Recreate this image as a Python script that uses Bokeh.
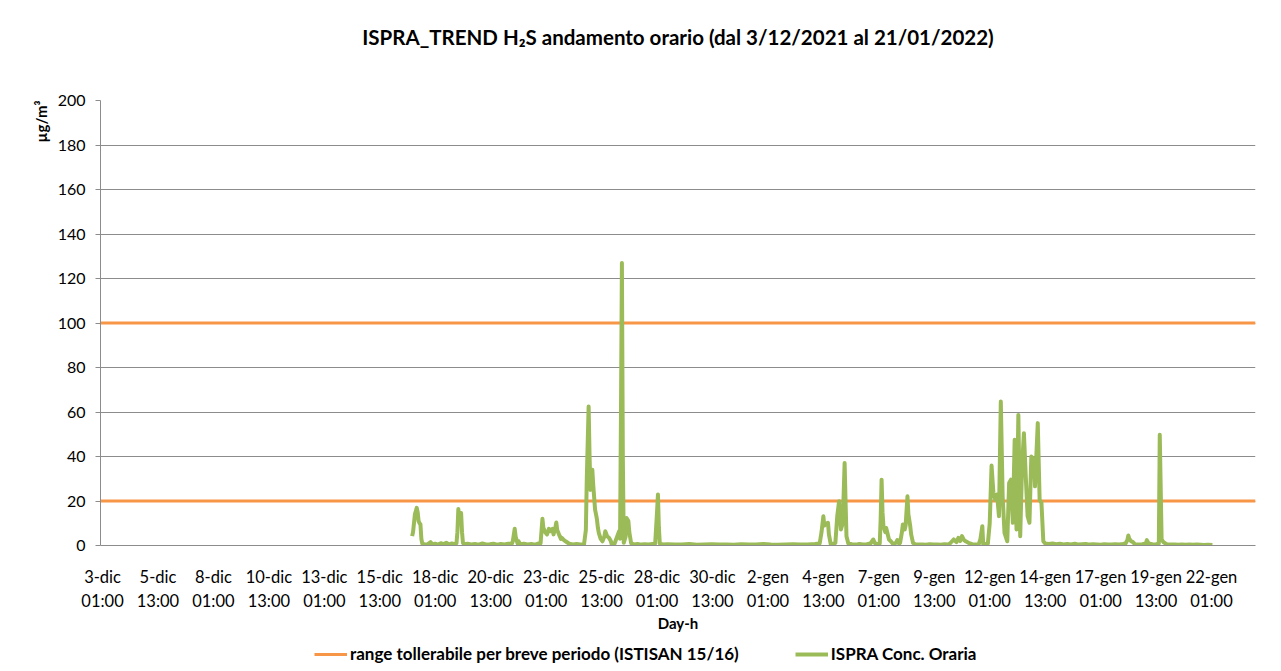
from bokeh.plotting import figure
from bokeh.models import Range1d, FixedTicker, Legend, LegendItem, Title
from bokeh.layouts import column
from bokeh.embed import file_html
from bokeh.resources import INLINE

# ---------------- data ----------------
# hours counted from 3-dic-2021 00:00
tick_hours = [1 + 60 * k for k in range(21)]
tick_labels = ["3-dic\n01:00", "5-dic\n13:00", "8-dic\n01:00", "10-dic\n13:00", "13-dic\n01:00",
               "15-dic\n13:00", "18-dic\n01:00", "20-dic\n13:00", "23-dic\n01:00", "25-dic\n13:00",
               "28-dic\n01:00", "30-dic\n13:00", "2-gen\n01:00", "4-gen\n13:00", "7-gen\n01:00",
               "9-gen\n13:00", "12-gen\n01:00", "14-gen\n13:00", "17-gen\n01:00", "19-gen\n13:00",
               "22-gen\n01:00"]

conc_hours = [336, 337, 338, 339, 341, 342, 343, 344, 345, 346, 347, 350, 353, 356, 358, 361, 364, 367,
              370, 373, 376, 379, 382, 384, 385, 386, 387, 388, 389, 390, 391, 392, 396, 400, 404, 408,
              412, 416, 420, 424, 428, 432, 436, 440, 444, 445, 447, 448, 450, 451, 453, 457, 461, 465,
              469, 473, 475, 477, 478, 480, 482, 484, 486, 488, 489, 491, 492, 493, 495, 497, 498, 500,
              502, 506, 510, 514, 518, 522, 524, 525, 527, 528, 529, 531, 532, 534, 535, 536, 537, 538,
              540, 542, 544, 545, 547, 549, 551, 552, 555, 558, 560, 561, 562, 563, 564, 565, 567, 568,
              570, 571, 573, 576, 580, 584, 588, 592, 596, 599, 601, 602, 603, 604, 608, 612, 620, 628,
              636, 644, 652, 660, 668, 676, 684, 692, 700, 708, 716, 724, 732, 740, 748, 756, 764, 772,
              777, 779, 781, 782, 783, 786, 787, 789, 792, 794, 796, 798, 799, 800, 802, 804, 805, 806,
              808, 812, 816, 820, 824, 828, 832, 835, 837, 840, 842, 843, 844, 845, 846, 848, 849, 852,
              854, 857, 860, 861, 863, 864, 866, 867, 869, 870, 872, 873, 875, 876, 878, 880, 884, 888,
              892, 896, 900, 904, 908, 912, 916, 918, 922, 925, 927, 929, 931, 933, 935, 938, 942, 946,
              949, 951, 953, 954, 956, 959, 961, 963, 965, 967, 969, 971, 973, 975, 977, 980, 982, 984,
              986, 988, 990, 992, 994, 996, 998, 1000, 1002, 1004, 1006, 1009, 1010, 1013, 1015, 1017,
              1019, 1021, 1025, 1029, 1033, 1037, 1041, 1045, 1049, 1053, 1057, 1061, 1065, 1069, 1073,
              1077, 1081, 1085, 1089, 1093, 1097, 1101, 1105, 1108, 1110, 1111, 1112, 1114, 1116, 1118,
              1122, 1126, 1130, 1131, 1133, 1137, 1141, 1144, 1145, 1147, 1149, 1153, 1157, 1161, 1165,
              1169, 1173, 1177, 1181, 1185, 1189, 1193, 1197, 1202]

conc_values = [4.2, 6, 10, 14, 16.9, 15, 11, 10, 9.5, 3, 0.8, 0.5, 0.6, 1.5, 0.5, 0.8, 0.4, 1.0,
               0.6, 1.2, 0.5, 0.9, 0.6, 1.0, 6, 16.4, 12, 10, 14.6, 6, 1.2, 0.6, 0.8, 0.5, 0.7, 0.4,
               0.9, 0.5, 0.6, 0.8, 0.4, 0.7, 0.5, 0.8, 0.9, 2, 7.5, 4, 1, 2, 0.6, 0.8, 0.5, 0.7,
               0.4, 0.9, 1, 12, 8, 6, 5, 7.5, 6.4, 7.5, 5, 8, 10.3, 7, 4.9, 3, 3.4, 2.5,
               1.9, 0.8, 0.5, 0.7, 0.5, 0.5, 7, 30, 62.5, 40, 25, 34, 27, 16, 14, 11.7, 8, 5.7,
               3, 1.9, 4, 6.4, 4.2, 3.5, 2, 0.5, 0.8, 4.2, 6.4, 3, 60, 127, 40, 1.2, 4, 12.4,
               11, 6, 1, 0.5, 0.7, 0.4, 0.6, 0.5, 0.7, 0.8, 15, 22.9, 8, 0.8, 0.5, 0.6, 0.4, 0.5,
               0.7, 0.3, 0.5, 0.6, 0.4, 0.5, 0.3, 0.6, 0.4, 0.5, 0.7, 0.4, 0.3, 0.5, 0.6, 0.4, 0.5, 0.7,
               0.9, 6, 13.1, 9, 9.4, 10.2, 5, 0.5, 0.8, 1.2, 13.1, 19.9, 14, 7.2, 10, 37.1, 20, 4.2,
               0.9, 0.6, 0.4, 0.7, 0.5, 0.6, 0.9, 2.7, 0.9, 0.6, 0.9, 12, 29.6, 15, 8.7, 6, 7.9, 2.7,
               1.9, 0.4, 1.5, 2.4, 0.8, 1.2, 6, 9.4, 7.2, 9, 22.1, 14, 8.7, 5, 1.2, 0.6, 0.4, 0.5,
               0.3, 0.6, 0.4, 0.5, 0.3, 0.6, 0.4, 0.9, 2.7, 1.5, 3.4, 2, 4.2, 2.5, 1.9, 1.2, 0.6, 0.5,
               0.4, 3, 8.7, 0.4, 0.7, 0.9, 10, 35.9, 23.6, 20.6, 22.9, 13.2, 64.7, 22.1, 5.7, 1.9, 28.1, 29.6,
               10.2, 47.5, 7.2, 58.7, 4.2, 35.6, 50.5, 31.1, 13.2, 10.2, 40, 38.6, 26.6, 55, 20.6, 19.1,
               1.9, 0.9, 0.7, 0.9, 0.6, 0.8, 0.5, 0.7, 0.5, 0.8, 0.4, 0.6, 0.7, 0.4, 0.6,
               0.5, 0.3, 0.6, 0.5, 0.4, 0.6, 0.5, 0.7, 0.9, 2.5, 4.5, 3, 1.9, 1.5, 0.6,
               0.5, 0.6, 0.9, 2.4, 0.9, 0.6, 0.5, 0.9, 49.8, 2.7, 1.5, 0.5, 0.4, 0.5, 0.3,
               0.4, 0.3, 0.5, 0.3, 0.4, 0.3, 0.2, 0.3, 0.2]

thresholds = [20, 100]
series_names = ["range tollerabile per breve periodo (ISTISAN 15/16)", "ISPRA Conc. Oraria"]

x_start, x_end = -1.2, 1248.6
y_start, y_end = 0, 200

FONT = "Lato"
GRID = "#8c8c8c"
ORANGE = "#F79646"
GREEN = "#9BBB59"
W = 1280
H_MAIN = 634
H_LEG = 36

p = figure(width=W, height=H_MAIN, output_backend="svg", toolbar_location=None,
           x_range=Range1d(x_start, x_end), y_range=Range1d(y_start, y_end),
           min_border_left=100, min_border_right=25, min_border_top=100, min_border_bottom=88)
p.outline_line_color = None
p.background_fill_color = "white"
p.border_fill_color = "white"

# grid
p.xgrid.grid_line_color = None
p.ygrid.grid_line_color = GRID
p.ygrid.grid_line_width = 1
p.yaxis.ticker = FixedTicker(ticks=list(range(0, 201, 20)))

# axes
p.yaxis.axis_line_color = GRID
p.yaxis.major_tick_line_color = GRID
p.yaxis.major_tick_out = 5
p.yaxis.major_tick_in = 0
p.yaxis.minor_tick_line_color = None
p.yaxis.major_label_standoff = 10
p.yaxis.major_label_text_font = FONT
p.yaxis.major_label_text_font_size = "16px"
p.yaxis.major_label_text_color = "#000000"

p.xaxis.ticker = FixedTicker(ticks=tick_hours)
p.xaxis.major_label_overrides = {h: lab for h, lab in zip(tick_hours, tick_labels)}
p.xaxis.axis_line_color = GRID
p.xaxis.major_tick_line_color = None
p.xaxis.minor_tick_line_color = None
p.xaxis.major_label_standoff = 15
p.xaxis.major_label_text_font = FONT
p.xaxis.major_label_text_font_size = "16.5px"
p.xaxis.major_label_text_color = "#000000"
p.xaxis.axis_label = "Day-h"
p.xaxis.axis_label_text_font = FONT
p.xaxis.axis_label_text_font_style = "bold"
p.xaxis.axis_label_text_font_size = "15px"
p.xaxis.axis_label_text_color = "#000000"
p.xaxis.axis_label_standoff = 0

# series
thr_xs = [[x_start, x_end] for _ in thresholds]
thr_ys = [[t, t] for t in thresholds]
p.multi_line(xs=thr_xs, ys=thr_ys, line_color=ORANGE, line_width=3)
p.line(conc_hours, conc_values, line_color=GREEN, line_width=4, line_join="round")

# spacer (closest to frame) then the title above it
p.add_layout(Title(text=" ", text_font=FONT, text_font_size="29px"), "above")
p.add_layout(Title(text="ISPRA_TREND H\u2082S andamento orario (dal 3/12/2021 al 21/01/2022)",
                   align="center", text_color="#000000",
                   text_font=FONT, text_font_style="bold", text_font_size="20.5px"), "above")
p.add_layout(Title(text="\u00b5g/m\u00b3", align="right", text_color="#000000",
                   text_font=FONT, text_font_style="bold", text_font_size="15px"), "left")

# legend strip below the chart (same series, drawn outside this strip's visible ranges)
q = figure(width=W, height=H_LEG, output_backend="svg", toolbar_location=None,
           x_range=Range1d(-5000, -4000), y_range=Range1d(-5000, -4000),
           x_axis_type=None, y_axis_type=None, min_border=0)
q.outline_line_color = None
q.xgrid.grid_line_color = None
q.ygrid.grid_line_color = None
q.background_fill_color = "white"
q.border_fill_color = "white"
leg_thr = q.multi_line(xs=thr_xs, ys=thr_ys, line_color=ORANGE, line_width=3)
leg_conc = q.line(conc_hours, conc_values, line_color=GREEN, line_width=4)
legend = Legend(items=[LegendItem(label=series_names[0], renderers=[leg_thr]),
                       LegendItem(label=series_names[1], renderers=[leg_conc])],
                orientation="horizontal", location=(214, 6),
                label_text_font=FONT, label_text_font_style="bold", label_text_font_size="17px",
                label_text_color="#000000",
                glyph_width=33, glyph_height=20, label_standoff=3, spacing=56,
                border_line_color=None, background_fill_alpha=0, padding=2, margin=0)
q.add_layout(legend)

layout = column(p, q, spacing=0)
open("out.html", "w").write(file_html(layout, INLINE))
